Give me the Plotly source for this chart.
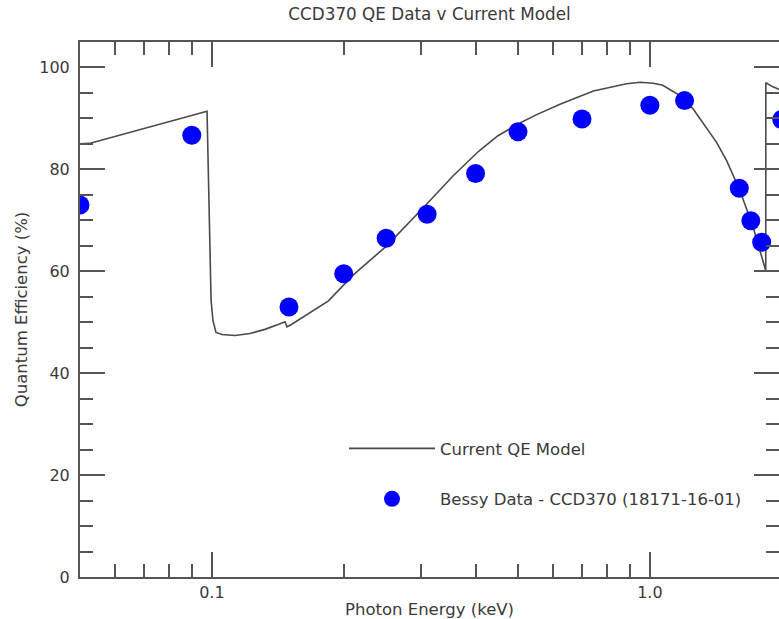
import numpy as np
import plotly.graph_objects as go

# ---- data ----
model_energy = [0.05, 0.0525, 0.0975, 0.0996, 0.1006, 0.1022, 0.1055, 0.1129, 0.1222,
                0.1322, 0.1431, 0.1469, 0.1484, 0.1516, 0.1846, 0.2104, 0.2507, 0.2733,
                0.3095, 0.3552, 0.4071, 0.45, 0.5, 0.55, 0.6235, 0.743, 0.8853, 0.95,
                1.018, 1.07, 1.112, 1.192, 1.257, 1.337, 1.42, 1.497, 1.606, 1.722, 1.816,
                1.839, 1.8395, 1.9, 2.0]
model_qe = [85.0, 85.1, 91.4, 54.2, 50.3, 48.0, 47.6, 47.4, 47.8,
            48.6, 49.7, 50.1, 49.1, 49.5, 54.2, 59.3, 65.0, 68.3,
            73.2, 78.7, 83.6, 86.6, 88.9, 90.7, 92.8, 95.4, 96.8, 97.1,
            96.9, 96.5, 95.7, 94.1, 91.8, 88.6, 85.3, 81.7, 75.8, 68.6, 62.1,
            60.1, 97.0, 96.3, 95.5]

bessy_energy = [0.05, 0.09, 0.15, 0.2, 0.25, 0.31, 0.4, 0.5, 0.7, 1.0, 1.2, 1.6, 1.7, 1.8, 2.0]
bessy_qe = [73.0, 86.7, 53.0, 59.5, 66.5, 71.2, 79.2, 87.4, 89.9, 92.6, 93.5, 76.3, 69.9, 65.7, 89.8]

x_major = [0.1, 1.0]
x_major_text = ["0.1", "1.0"]
x_minor = [0.06, 0.07, 0.08, 0.09, 0.2, 0.3, 0.4, 0.5, 0.6, 0.7, 0.8, 0.9, 2.0]
y_major = [0, 20, 40, 60, 80, 100]

title_text = "CCD370 QE Data v Current Model"
x_title = "Photon Energy (keV)"
y_title = "Quantum Efficiency (%)"
model_name = "Current QE Model"
data_name = "Bessy Data - CCD370 (18171-16-01)"

FONT = "DejaVu Sans"
TXT = "#3a3a3a"
AX = "#555555"

fig = go.Figure()
fig.add_trace(go.Scatter(x=model_energy, y=model_qe, mode="lines",
                         line=dict(color="#4a4a4a", width=1.6),
                         name=model_name, legendgroup="a"))
fig.add_trace(go.Scatter(x=bessy_energy, y=bessy_qe, mode="markers",
                         marker=dict(color="#0000ff", size=19),
                         name=data_name, legendgroup="b"))
fig.add_trace(go.Scatter(x=[], y=[], yaxis="y2", showlegend=False, hoverinfo="skip"))

fig.update_layout(
    width=779, height=619,
    margin=dict(l=80, r=0, t=42, b=42),
    paper_bgcolor="white", plot_bgcolor="white",
    font=dict(family=FONT, size=16, color=TXT),
    title=dict(text=title_text, x=0.50, xref="paper", xanchor="center",
               y=1 - 14 / 619, yref="container", yanchor="middle",
               font=dict(size=16.8, color=TXT)),
    xaxis=dict(type="log", range=[np.log10(0.05), 0.2948],
               tickmode="array", tickvals=x_major, ticktext=x_major_text,
               ticks="inside", ticklen=25, tickwidth=1.5, tickcolor=AX,
               showline=True, linecolor=AX, linewidth=2, mirror="ticks",
               showgrid=False, zeroline=False,
               minor=dict(tickmode="array", tickvals=x_minor, ticks="inside",
                          ticklen=13, tickwidth=1.5, tickcolor=AX, showgrid=False),
               title=dict(text=x_title, standoff=6, font=dict(size=16.5, color=TXT)),
               tickfont=dict(size=16, color=TXT)),
    yaxis=dict(range=[0, 105], tickmode="array", tickvals=y_major,
               ticks="inside", ticklen=25, tickwidth=1.5, tickcolor=AX,
               showline=True, linecolor=AX, linewidth=2, mirror=False,
               showgrid=False, zeroline=False, ticklabelstandoff=5,
               minor=dict(dtick=5, ticks="inside", ticklen=13, tickwidth=1.5,
                          tickcolor=AX, showgrid=False),
               title=dict(text=y_title, standoff=7, font=dict(size=16.5, color=TXT)),
               tickfont=dict(size=16, color=TXT)),
    yaxis2=dict(range=[0, 105], overlaying="y", side="right", anchor="x",
                tickmode="array", tickvals=y_major, showticklabels=False,
                ticks="inside", ticklen=25, tickwidth=1.5, tickcolor=AX,
                showline=False, showgrid=False, zeroline=False,
                minor=dict(dtick=5, ticks="inside", ticklen=13, tickwidth=1.5,
                           tickcolor=AX, showgrid=False)),
    showlegend=True,
    legend=dict(x=(344 - 80) / 699, y=0.2726, xanchor="left", yanchor="top",
                bgcolor="rgba(0,0,0,0)", traceorder="grouped", tracegroupgap=26,
                itemwidth=86, font=dict(size=16.5, color=TXT)),
)

fig.write_html("out.html")
